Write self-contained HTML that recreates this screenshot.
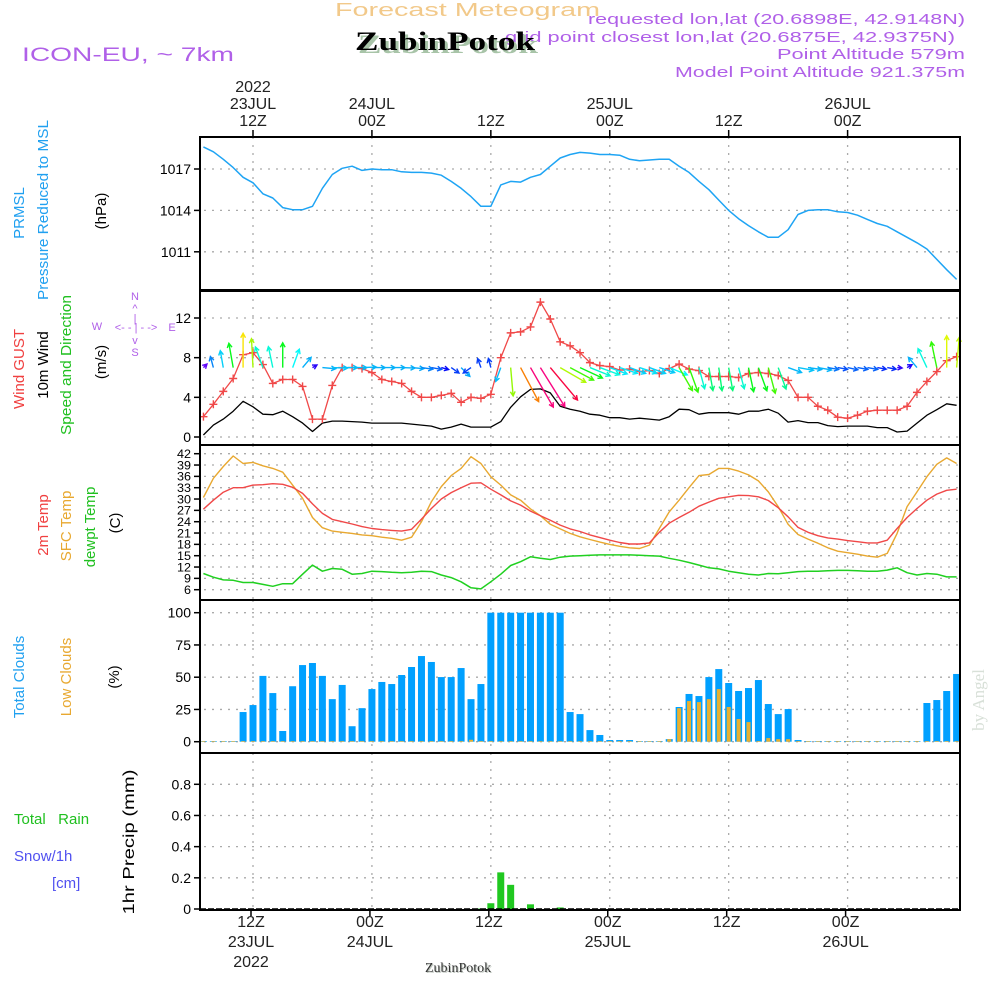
<!DOCTYPE html>
<html><head><meta charset="utf-8"><style>
html,body{margin:0;padding:0;background:#fff;}
svg{display:block;font-family:"Liberation Sans",sans-serif;}
</style></head><body>
<svg id="chart" width="1000" height="1000" viewBox="0 0 1000 1000" xmlns="http://www.w3.org/2000/svg">
<g>
<text x="335" y="16" font-size="18" fill="#f2c98a" textLength="265">Forecast Meteogram</text>
<text x="588" y="24" font-size="15" fill="#b060e8" textLength="377">requested lon,lat (20.6898E, 42.9148N)</text>
<text x="505" y="42" font-size="15" fill="#b060e8" textLength="450">grid point closest lon,lat (20.6875E, 42.9375N)</text>
<text x="358" y="53" font-size="26" font-weight="bold" font-family="Liberation Serif,serif" fill="#a8c4a8" textLength="180">ZubinPotok</text>
<text x="355" y="50" font-size="26" font-weight="bold" font-family="Liberation Serif,serif" fill="#000" textLength="180">ZubinPotok</text>
<text x="965" y="59" font-size="15" fill="#b060e8" text-anchor="end" textLength="188">Point Altitude 579m</text>
<text x="965" y="77" font-size="15" fill="#b060e8" text-anchor="end" textLength="290">Model Point Altitude 921.375m</text>
<text x="22" y="61" font-size="19" fill="#b060e8" textLength="212">ICON-EU, ~ 7km</text>
</g>
<g font-size="15">
<text transform="translate(24,213) rotate(-90)" text-anchor="middle" fill="#20a0f0">PRMSL</text>
<text transform="translate(48,210) rotate(-90)" text-anchor="middle" fill="#20a0f0" textLength="180">Pressure Reduced to MSL</text>
<text transform="translate(106,211) rotate(-90)" text-anchor="middle" fill="#000">(hPa)</text>
<text transform="translate(24,369) rotate(-90)" text-anchor="middle" fill="#f04040">Wind GUST</text>
<text transform="translate(48,365) rotate(-90)" text-anchor="middle" fill="#000">10m Wind</text>
<text transform="translate(71,365) rotate(-90)" text-anchor="middle" fill="#20c020" textLength="140">Speed and Direction</text>
<text transform="translate(106,362) rotate(-90)" text-anchor="middle" fill="#000">(m/s)</text>
<g font-size="11" fill="#b060e8" text-anchor="middle">
<text x="135" y="300">N</text><text x="135" y="312">^</text><text x="135" y="322">|</text>
<text x="97" y="330">W</text><text x="136" y="331">&lt;- - | - -&gt;</text><text x="172" y="331">E</text>
<text x="135" y="344">v</text><text x="135" y="356">S</text>
</g>
<text transform="translate(48,525) rotate(-90)" text-anchor="middle" fill="#f04040">2m Temp</text>
<text transform="translate(71,526) rotate(-90)" text-anchor="middle" fill="#e8a830">SFC Temp</text>
<text transform="translate(95,527) rotate(-90)" text-anchor="middle" fill="#20c020">dewpt Temp</text>
<text transform="translate(120,523) rotate(-90)" text-anchor="middle" fill="#000">(C)</text>
<text transform="translate(24,677) rotate(-90)" text-anchor="middle" fill="#20a0f0">Total Clouds</text>
<text transform="translate(71,677) rotate(-90)" text-anchor="middle" fill="#e8a830">Low Clouds</text>
<text transform="translate(119,677) rotate(-90)" text-anchor="middle" fill="#000">(%)</text>
<text transform="translate(134,842) rotate(-90)" text-anchor="middle" fill="#000" font-size="16" textLength="145">1hr Precip (mm)</text>
<text x="14" y="824" fill="#20c020">Total&#160;&#160; Rain</text>
<text x="14" y="861" fill="#5050f0">Snow/1h</text>
<text x="52" y="888" fill="#5050f0">[cm]</text>
<text transform="translate(984,700) rotate(-90)" text-anchor="middle" font-family="Liberation Serif,serif" font-size="17" fill="#d8e0d8">by Angel</text>
<text x="426" y="973" font-family="Liberation Serif,serif" font-size="14" fill="#c0c8c0">ZubinPotok</text>
<text x="425" y="972" font-family="Liberation Serif,serif" font-size="14" fill="#333">ZubinPotok</text>
</g>
<g id="plots"></g>
</svg>
<script>
const hours = [];
for (let h = 7; h <= 83; h++) hours.push(h);
const pressure = [1018.6,1018.25,1017.7,1017.1,1016.4,1016.0,1015.2,1014.9,1014.2,1014.05,1014.05,1014.3,1015.6,1016.6,1017.05,1017.2,1016.9,1017.0,1016.95,1016.95,1016.8,1016.75,1016.75,1016.7,1016.55,1016.1,1015.6,1015.0,1014.3,1014.3,1015.85,1016.1,1016.05,1016.4,1016.6,1017.2,1017.8,1018.05,1018.2,1018.15,1018.05,1018.05,1018.0,1017.7,1017.6,1017.65,1017.7,1017.7,1017.2,1016.75,1016.1,1015.5,1014.75,1014.0,1013.4,1012.9,1012.45,1012.05,1012.05,1012.6,1013.7,1014.0,1014.05,1014.05,1013.9,1013.85,1013.65,1013.35,1013.05,1012.85,1012.45,1012.05,1011.65,1011.2,1010.45,1009.7,1009.0];
const gust = [2.05,3.3,4.6,5.9,8.3,8.5,7.3,5.4,5.8,5.8,5.1,1.8,1.8,5.2,7.0,7.0,6.9,6.5,5.8,5.6,5.4,4.6,4.0,4.0,4.2,4.4,3.5,4.0,3.9,4.3,8.0,10.5,10.6,11.1,13.6,11.9,9.6,9.2,8.5,7.5,7.2,7.1,6.75,6.85,6.6,6.7,6.4,6.9,7.35,6.85,6.7,6.1,6.1,6.1,6.0,6.4,6.5,6.4,6.2,5.7,4.0,4.0,3.1,2.7,2.0,1.9,2.2,2.6,2.7,2.7,2.7,3.1,4.5,5.6,6.6,7.7,8.1];
const wind = [0.2,1.2,1.8,2.6,3.6,3.05,2.3,2.25,2.6,2.05,1.4,0.55,1.4,1.6,1.6,1.55,1.5,1.4,1.4,1.4,1.4,1.3,1.2,1.1,0.8,1.0,1.3,1.0,1.0,1.0,1.55,3.0,4.05,4.8,4.85,4.45,3.1,2.8,2.6,2.3,2.2,1.95,1.95,1.8,1.9,1.8,1.7,2.05,2.8,2.75,2.3,2.45,2.45,2.45,2.3,2.6,2.6,2.8,2.4,1.5,1.65,1.45,1.45,1.15,1.05,1.1,1.1,1.1,0.95,0.95,0.5,0.6,1.4,2.2,2.75,3.35,3.2];
const windDir = [45,-15,-10,-10,0,-3,-20,-12,0,20,40,60,95,92,90,90,88,90,90,90,92,95,98,100,105,125,135,235,-20,-15,200,175,152,150,148,140,120,118,115,112,110,110,108,110,108,110,108,112,150,160,165,170,172,170,165,168,160,165,160,110,100,98,100,100,100,102,100,100,100,100,95,60,-40,-25,-12,0,5];
const t2m = [27.3,29.7,31.8,33.0,33.0,33.7,33.8,34.05,33.9,33.1,31.5,28.7,26.2,24.6,24.0,23.4,22.7,22.2,21.9,21.7,21.5,22.0,24.7,27.5,30.0,31.7,33.0,34.2,34.3,32.6,31.1,29.5,28.4,26.8,25.6,24.4,23.1,22.1,21.4,20.5,19.8,19.1,18.5,18.1,18.1,18.4,21.2,23.6,25.1,26.5,28.1,29.2,30.2,30.6,31.0,30.9,30.6,29.6,27.7,25.3,22.5,21.2,20.3,19.7,19.4,19.0,18.7,18.4,18.4,19.1,22.2,25.1,27.5,29.7,31.3,32.3,32.6];
const tsfc = [30.4,35.5,38.6,41.4,39.4,39.7,38.8,38.1,37.1,33.7,30.2,25.1,22.4,21.5,21.2,20.9,20.5,20.3,19.9,19.6,19.1,19.9,24.0,29.3,33.3,36.2,38.1,41.2,39.4,35.9,33.7,31.1,29.7,27.4,25.6,23.3,22.1,20.9,20.0,19.3,18.6,18.0,17.5,17.1,16.9,17.8,22.2,26.6,29.7,33.0,36.2,36.5,38.1,38.1,37.4,36.4,34.8,31.9,28.0,23.3,20.6,19.4,18.3,17.1,16.2,15.8,15.4,14.9,14.6,15.6,20.9,28.0,31.9,35.9,39.2,40.9,39.4];
const dewpt = [10.3,9.3,8.6,8.5,7.9,7.9,7.4,6.9,7.6,7.6,10.1,12.5,10.9,11.6,11.4,10.1,10.3,10.9,10.8,10.6,10.5,10.6,10.9,10.8,9.9,9.2,8.1,6.5,6.2,8.1,10.1,12.4,13.4,14.7,14.3,14.0,14.6,14.9,15.0,15.1,15.2,15.2,15.2,15.2,15.1,15.0,14.9,14.3,13.8,13.2,12.5,11.8,11.5,10.9,10.5,10.1,9.9,10.3,10.2,10.5,10.8,10.9,10.9,11.0,11.1,11.1,11.0,10.9,10.9,11.2,11.8,10.5,9.9,10.3,10.1,9.4,9.4];
const totalClouds = [0.5,0.5,0.5,0.5,23,28.4,51,37.7,8.3,43,59.4,61,51,33,44,12,26,40.8,46.3,44.7,51.7,57.9,66.4,61.8,50.1,50.1,57.1,33,44.7,100,100,100,100,100,100,100,100,23,21.4,9,5.2,1.3,1.3,1.3,0.5,0.5,0.5,2,26.9,37,35.4,50.1,56.3,45.5,39.3,41.6,47.8,29.2,21.4,25.3,1.3,0.5,0.5,0.5,0.5,0.5,0.5,0.5,0.5,0.5,0.5,0.5,0.5,30,32.3,39.3,52.5];
const lowClouds = [0.5,0.5,0.5,0.5,0.5,0.5,0.5,0.5,0.5,0.5,0.5,0.5,0.5,0.5,0.5,0.5,0.5,0.5,0.5,0.5,0.5,0.5,0.5,0.5,0.5,0.5,0.5,1.5,0.5,0.5,0.5,0.5,0.5,0.5,0.5,0.5,0.5,0.5,0.5,0.5,0.5,0.5,0.5,0.5,0.5,0.5,0.5,2,26,31.5,30.7,33,40.8,26.9,17.6,15.2,0.5,2.8,2,2,0.5,0.5,0.5,0.5,0.5,0.5,0.5,0.5,0.5,0.5,0.5,0.5,0.5,0.5,0.5,0.5,0.5];
const precip = [0,0,0,0,0,0,0,0,0,0,0,0,0,0,0,0,0,0,0,0,0,0,0,0,0,0,0,0,0.003,0.037,0.235,0.155,0,0.03,0,0,0.01,0,0,0,0,0,0,0,0,0,0,0,0,0,0,0,0,0,0,0,0,0,0,0,0,0,0,0,0,0,0,0,0,0,0,0,0,0,0,0,0];
const pressTicks = [1011,1014,1017];
const windTicks = [0,4,8,12];
const tempTicks = [6,9,12,15,18,21,24,27,30,33,36,39,42];
const cloudTicks = [0,25,50,75,100];
const precipTicks = [0,0.2,0.4,0.6,0.8];
const timeTicks = [12,24,36,48,60,72];
const topLabels = [["2022","23JUL","12Z"],["","24JUL","00Z"],["","","12Z"],["","25JUL","00Z"],["","","12Z"],["","26JUL","00Z"]];
const bottomLabels = [["12Z","23JUL","2022"],["00Z","24JUL",""],["12Z","",""],["00Z","25JUL",""],["12Z","",""],["00Z","26JUL",""]];

const NS = "http://www.w3.org/2000/svg";
const root = document.getElementById('plots');
const X0 = 200, X1 = 960;
function xs(h){ return 253 + (h - 12) * 9.91; }
function mk(tag, attrs, parent){ const e = document.createElementNS(NS, tag); for (const k in attrs) e.setAttribute(k, attrs[k]); (parent||root).appendChild(e); return e; }
function lin(v0, v1, y0, y1){ return v => y0 + (v - v0) * (y1 - y0) / (v1 - v0); }

const panels = [
 {name:'pressure', top:137, bot:290, y:lin(1017,1014,169,210.4), ticks:pressTicks, fmt:v=>String(v), fs:14},
 {name:'wind', top:291, bot:445, y:lin(0,12,437,318), ticks:windTicks, fmt:v=>String(v), fs:14},
 {name:'temp', top:445, bot:600, y:lin(42,6,453.7,589.7), ticks:tempTicks, fmt:v=>String(v), fs:12},
 {name:'clouds', top:600, bot:753, y:lin(0,100,741.7,612.7), ticks:cloudTicks, fmt:v=>String(v), fs:14},
 {name:'precip', top:753, bot:910, y:lin(0,0.8,909,784.3), ticks:precipTicks, fmt:v=>v===0?'0':v.toFixed(1), fs:14}
];

panels.forEach(p => {
  const g = mk('g', {});
  
  
  p.g = g;
  const grid = mk('g', {stroke:'#aaa','stroke-width':1.3,'stroke-dasharray':'2 6'}, g);
  
  
  p.ticks.forEach(v => { const y = p.y(v); mk('line', {x1:X0+4, x2:X1, y1:y, y2:y}, grid); });
  timeTicks.forEach(h => { mk('line', {x1:xs(h), x2:xs(h), y1:p.top, y2:p.bot}, grid); });
  const ax = mk('g', {}, g);
  
  
  p.ticks.forEach(v => {
    const y = p.y(v);
    mk('line', {x1:X0-6, x2:X0, y1:y, y2:y, stroke:'#000','stroke-width':1.5}, ax);
    const t = mk('text', {x:X0-9, y:y+p.fs*0.36, 'text-anchor':'end','font-size':p.fs, fill:'#000'}, ax);
    if (p.name==='temp') t.setAttribute('textLength', String(v).length>1 ? 14 : 7);
    t.textContent = p.fmt(v);
  });
});

// top time ticks / labels
const tl = mk('g', {'font-size':16, fill:'#222', 'text-anchor':'middle'});


timeTicks.forEach((h,i) => {
  const x = xs(h);
  mk('line', {x1:x, x2:x, y1:130, y2:137, stroke:'#000','stroke-width':1.5}, tl);
  topLabels[i].forEach((s,j) => { if (s) { const t = mk('text', {x:x, y:92+j*17}, tl); t.textContent = s; } });
});
const bl = mk('g', {'font-size':16, fill:'#222', 'text-anchor':'middle'});


timeTicks.forEach((h,i) => {
  const x = xs(h) - 2;
  mk('line', {x1:x, x2:x, y1:910, y2:916, stroke:'#000','stroke-width':1.5}, bl);
  bottomLabels[i].forEach((s,j) => { if (s) { const t = mk('text', {x:x, y:927+j*20}, bl); t.textContent = s; } });
});

function polyline(p, arr, color, name, w){
  const pts = hours.map((h,i) => xs(h).toFixed(1)+','+p.y(arr[i]).toFixed(1)).join(' ');
  const l = mk('polyline', {points:pts, fill:'none', stroke:color, 'stroke-width':w||1.4, 'stroke-linejoin':'round'}, p.g);
  
  
  return l;
}
polyline(panels[0], pressure, '#1ea4f4', 'pressure-line', 1.5);
const pw = panels[1];
polyline(pw, wind, '#000', 'wind-speed-line', 1.3);
polyline(pw, gust, '#f04848', 'gust-line', 1.3);
const gm = mk('g', {stroke:'#f04848','stroke-width':1.4}, pw.g);


hours.forEach((h,i) => { const x = xs(h), y = pw.y(gust[i]);
  mk('path', {d:`M${x-4},${y}H${x+4}M${x},${y-4}V${y+4}`}, gm); });
function speedColor(s){
  const st = [[0,270],[0.9,235],[1.3,200],[1.8,190],[2.3,170],[2.6,125],[3.05,80],[3.6,55],[4.05,30],[4.5,-20],[5,-35]];
  let hue = st[st.length-1][1];
  for (let k=0;k<st.length-1;k++){ if (s>=st[k][0] && s<=st[k+1][0]) { const f=(s-st[k][0])/(st[k+1][0]-st[k][0]); hue = st[k][1]+f*(st[k+1][1]-st[k][1]); break; } }
  return `hsl(${(hue+360)%360},95%,50%)`;
}
const arrows = mk('g', {'stroke-width':1.4, fill:'none'}, pw.g);


hours.forEach((h,i) => {
  const x = xs(h), y = pw.y(7.0), L = Math.max(5, wind[i]*9.5);
  const a = windDir[i]*Math.PI/180;
  const dx = Math.sin(a), dy = -Math.cos(a);
  const ex = x + dx*L, ey = y + dy*L;
  const hl = 5, ha = 0.5;
  const b1x = ex - hl*(dx*Math.cos(ha) - dy*Math.sin(ha)), b1y = ey - hl*(dy*Math.cos(ha) + dx*Math.sin(ha));
  const b2x = ex - hl*(dx*Math.cos(-ha) - dy*Math.sin(-ha)), b2y = ey - hl*(dy*Math.cos(-ha) + dx*Math.sin(-ha));
  const ar = mk('path', {d:`M${x},${y}L${ex},${ey}M${b1x},${b1y}L${ex},${ey}L${b2x},${b2y}`, stroke:speedColor(wind[i])}, arrows);
  
  
});
const pt = panels[2];
polyline(pt, tsfc, '#e8a830', 'sfc-temp-line', 1.4);
polyline(pt, t2m, '#f04848', 't2m-line', 1.4);
polyline(pt, dewpt, '#20d020', 'dewpt-line', 1.5);
const pc = panels[3];
const cb = mk('g', {}, pc.g);


hours.forEach((h,i) => {
  const x = xs(h), y0 = pc.y(0);
  const y1 = pc.y(totalClouds[i]);
  const r = mk('rect', {x:x-3.5, y:y1, width:7, height:Math.max(0.6, y0-y1), fill:'#00a0ff'}, cb);
  
  
  const y2 = pc.y(lowClouds[i]);
  const r2 = mk('rect', {x:x-2, y:y2, width:4, height:Math.max(0.6, y0-y2), fill:'#e8b030'}, cb);
  
  
});
const pp = panels[4];
const pb = mk('g', {}, pp.g);


hours.forEach((h,i) => {
  if (precip[i] <= 0) return;
  const x = xs(h), y0 = pp.y(0), y1 = pp.y(precip[i]);
  const r = mk('rect', {x:x-3.5, y:y1, width:7, height:Math.max(0.8,y0-y1), fill:'#20c820'}, pb);
  
  
});
mk('line', {x1:X0, x2:X1, y1:909, y2:909, stroke:'#000','stroke-width':1.6,'stroke-dasharray':'6 2'}, pp.g);
panels.forEach(p => {
  const b = mk('rect', {x:X0, y:p.top, width:X1-X0, height:p.bot-p.top, fill:'none', stroke:'#000', 'stroke-width':2});
  
  
});
document.querySelectorAll('text[textLength]').forEach(t => t.setAttribute('lengthAdjust', 'spacingAndGlyphs'));
</script>
</body></html>
